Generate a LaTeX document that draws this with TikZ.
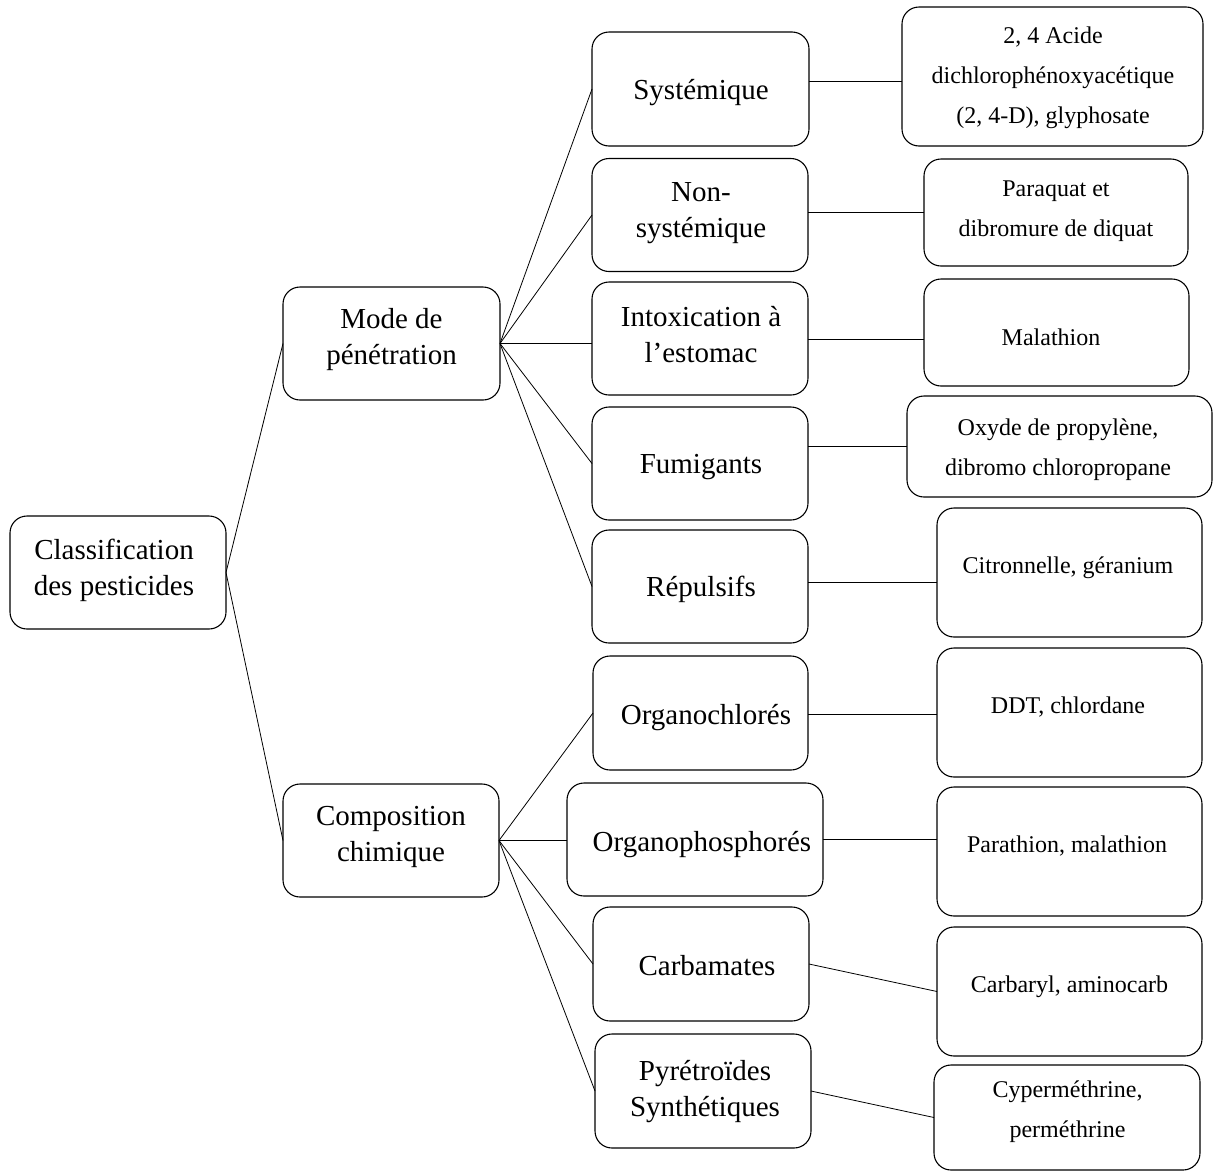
\documentclass[tikz,border=0pt]{standalone}
\usepackage{fontspec}
\setmainfont{Liberation Serif}
\begin{document}
\begin{tikzpicture}[x=1pt,y=-1pt,
  box/.style={draw=black, line width=1.1pt, rounded corners=17pt, inner sep=0pt, outer sep=0pt},
  big/.style={align=center, inner sep=0pt, font=\fontsize{29}{36}\selectfont},
  small/.style={align=center, inner sep=0pt, font=\fontsize{24}{40}\selectfont},
  link/.style={draw=black, line width=0.8pt}]
\useasboundingbox (0,0) rectangle (1214,1173);
% ---- level 0
\node[box, minimum width=216pt, minimum height=113pt] (root) at (118,572.5) {};
% ---- level 1
\node[box, minimum width=217pt, minimum height=113pt] (mode) at (391.5,343.5) {};
\node[box, minimum width=216pt, minimum height=113pt] (comp) at (391,840.5) {};
% ---- level 2
\node[box, minimum width=217pt, minimum height=114pt] (sys) at (700.5,89) {};
\node[box, minimum width=216pt, minimum height=113pt] (nonsys) at (700,215) {};
\node[box, minimum width=216pt, minimum height=113pt] (intox) at (700,338.5) {};
\node[box, minimum width=216pt, minimum height=113pt] (fum) at (700,463.5) {};
\node[box, minimum width=216pt, minimum height=113pt] (rep) at (700,586.5) {};
\node[box, minimum width=215pt, minimum height=114pt] (orgcl) at (700.5,713) {};
\node[box, minimum width=256pt, minimum height=113pt] (orgph) at (695,839.5) {};
\node[box, minimum width=216pt, minimum height=114pt] (carb) at (701,964) {};
\node[box, minimum width=216pt, minimum height=114pt] (pyr) at (703,1091) {};
% ---- level 3
\node[box, minimum width=301pt, minimum height=139pt] (acide) at (1052.5,76.5) {};
\node[box, minimum width=264pt, minimum height=107pt] (para) at (1056,212.5) {};
\node[box, minimum width=265pt, minimum height=107pt] (mala) at (1056.5,332.5) {};
\node[box, minimum width=305pt, minimum height=101pt] (oxy) at (1059.5,446.5) {};
\node[box, minimum width=265pt, minimum height=129pt] (citr) at (1069.5,572.5) {};
\node[box, minimum width=265pt, minimum height=129pt] (ddt) at (1069.5,712.5) {};
\node[box, minimum width=265pt, minimum height=129pt] (parat) at (1069.5,851.5) {};
\node[box, minimum width=265pt, minimum height=129pt] (carby) at (1069.5,991.5) {};
\node[box, minimum width=266pt, minimum height=105pt] (cyper) at (1067,1117.5) {};
% ---- texts
\node[big] (troot) at (114,569.8) {\strut Classification\\\strut des pesticides};
\node[big] (tmode) at (391.5,338.8) {\strut Mode de\\\strut pénétration};
\node[big] (tcomp) at (391,835.8) {\strut Composition\\\strut chimique};
\node[big] (tsys) at (701,91.8) {\strut Systémique};
\node[big] (tnonsys) at (701,211.8) {\strut Non-\\\strut systémique};
\node[big] (tintox) at (701,336.8) {\strut Intoxication à\\\strut l’estomac};
\node[big] (tfum) at (701,465.8) {\strut Fumigants};
\node[big] (trep) at (701,588.8) {\strut Répulsifs};
\node[big] (torgcl) at (706,716.8) {\strut Organochlorés};
\node[big] (torgph) at (702,843.8) {\strut Organophosphorés};
\node[big] (tcarb) at (707,967.8) {\strut Carbamates};
\node[big] (tpyr) at (705,1090.8) {\strut Pyrétroïdes\\\strut Synthétiques};
\node[small] (tacide) at (1053,75) {\strut 2, 4 Acide\\\strut dichlorophénoxyacétique\\\strut (2, 4-D), glyphosate};
\node[small] (tpara) at (1056,208) {\strut Paraquat et\\\strut dibromure de diquat};
\node[small] (tmala) at (1051,337) {\strut Malathion};
\node[small] (toxy) at (1058,447) {\strut Oxyde de propylène,\\\strut dibromo chloropropane};
\node[small] (tcitr) at (1068,565) {\strut Citronnelle, géranium};
\node[small] (tddt) at (1068,705) {\strut DDT, chlordane};
\node[small] (tparat) at (1067,844) {\strut Parathion, malathion};
\node[small] (tcarby) at (1069.5,984) {\strut Carbaryl, aminocarb};
\node[small] (tcyper) at (1067.5,1109) {\strut Cyperméthrine,\\\strut perméthrine};
% ---- connectors
\draw[link] (root.east) -- (mode.west);
\draw[link] (root.east) -- (comp.west);
\draw[link] (mode.east) -- (sys.west);
\draw[link] (mode.east) -- (nonsys.west);
\draw[link] (mode.east) -- (mode.east -| intox.west);
\draw[link] (mode.east) -- (fum.west);
\draw[link] (mode.east) -- (rep.west);
\draw[link] (comp.east) -- (orgcl.west);
\draw[link] (comp.east) -- (comp.east -| orgph.west);
\draw[link] (comp.east) -- (carb.west);
\draw[link] (comp.east) -- (pyr.west);
\coordinate (h1) at (0,81);
\coordinate (h2) at (0,212);
\coordinate (h3) at (0,339);
\coordinate (h4) at (0,446);
\coordinate (h5) at (0,582);
\coordinate (h6) at (0,714);
\coordinate (h7) at (0,839.5);
\draw[link] (sys.east |- h1) -- (acide.west |- h1);
\draw[link] (nonsys.east |- h2) -- (para.west |- h2);
\draw[link] (intox.east |- h3) -- (mala.west |- h3);
\draw[link] (fum.east |- h4) -- (oxy.west |- h4);
\draw[link] (rep.east |- h5) -- (citr.west |- h5);
\draw[link] (orgcl.east |- h6) -- (ddt.west |- h6);
\draw[link] (orgph.east |- h7) -- (parat.west |- h7);
\draw[link] (carb.east) -- (carby.west);
\draw[link] (pyr.east) -- (cyper.west);
\end{tikzpicture}
\end{document}
